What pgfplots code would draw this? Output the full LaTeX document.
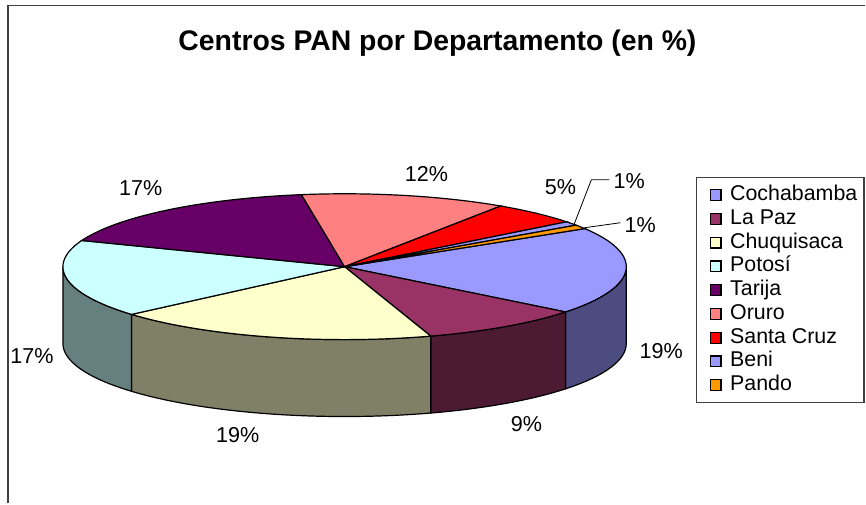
\documentclass[border=0pt]{standalone}
\usepackage{pgfplots}
\pgfplotsset{compat=1.18}
\usepackage{pgfplotstable}
\usepackage{fontspec}
\setmainfont{Liberation Sans}

\definecolor{top0}{HTML}{9999FF}\definecolor{side0}{HTML}{4C4C80}
\definecolor{top1}{HTML}{993366}\definecolor{side1}{HTML}{4D1A33}
\definecolor{top2}{HTML}{FFFFCC}\definecolor{side2}{HTML}{808066}
\definecolor{top3}{HTML}{CCFFFF}\definecolor{side3}{HTML}{668080}
\definecolor{top4}{HTML}{660066}\definecolor{side4}{HTML}{330033}
\definecolor{top5}{HTML}{FF8080}\definecolor{side5}{HTML}{804040}
\definecolor{top6}{HTML}{FF0000}\definecolor{side6}{HTML}{800000}
\definecolor{top7}{HTML}{9999FF}\definecolor{side7}{HTML}{4C4C80}
\definecolor{top8}{HTML}{FF9900}\definecolor{side8}{HTML}{804C00}
\definecolor{framec}{HTML}{404040}

% share of each department (percent), clockwise from Cochabamba
\pgfplotstableread{
name value
Cochabamba 19.4
LaPaz 9.4
Chuquisaca 18.6
Potosi 17.2
Tarija 16.7
Oruro 11.8
SantaCruz 5.1
Beni 0.9
Pando 0.9
}\pantable

% slice angles from the values (start at 31.5 deg, clockwise)
\xdef\cur{31.5}
\pgfplotsforeachungrouped \i in {0,...,8}{%
  \pgfplotstablegetelem{\i}{value}\of\pantable
  \pgfmathsetmacro\nxt{\cur-3.6*\pgfplotsretval}%
  \expandafter\xdef\csname s\i\endcsname{\cur}%
  \expandafter\xdef\csname e\i\endcsname{\nxt}%
  \pgfmathsetmacro\lo{max(\nxt,-180)}%
  \pgfmathsetmacro\hi{min(\cur,0)}%
  \expandafter\xdef\csname lo\i\endcsname{\lo}%
  \expandafter\xdef\csname hi\i\endcsname{\hi}%
  \xdef\cur{\nxt}%
}

\begin{document}
\begin{tikzpicture}
\begin{axis}[
  x=0.5pt, y=0.5pt, y dir=reverse,
  xmin=0, xmax=866, ymin=0, ymax=504,
  hide axis, scale only axis, clip=false,
  legend entries={Cochabamba, La Paz, Chuquisaca, Potosí, Tarija, Oruro, Santa Cruz, Beni, Pando},
  legend cell align=left,
  legend style={at={(axis cs:710,184)}, anchor=north west, draw=none, fill=none,
    font=\fontsize{10.7}{12}\selectfont, row sep=1.0pt, inner sep=0pt,
    nodes={inner sep=0pt, text height=8.2pt, text depth=2.7pt}},
  legend image code/.code={\draw[#1, draw=black, line width=0.6pt] (0pt,-2.7pt) rectangle (5.4pt,2.7pt);
    \path[draw=none, fill=none] (0pt,0pt) -- (10pt,0pt);},
]
\path (rel axis cs:0,0) rectangle (rel axis cs:1,1);
% outer frame and legend box
\draw[framec, line width=1pt] (8,504) -- (8,5.5) -- (866,5.5);
\draw[framec, line width=0.6pt] (697,178) -- (865,178) -- (865,403) -- (697,403) -- cycle;

% side walls (front half only)
\pgfplotsinvokeforeach{0,...,8}{%
  \ifdim\csname hi#1\endcsname pt>\csname lo#1\endcsname pt
    \edef\temp{\noexpand\addplot[fill=side#1, draw=black, line width=0.6pt, forget plot,
      domain=\csname lo#1\endcsname:\csname hi#1\endcsname, samples=50]
      ({345+282*cos(x)},{267-73*sin(x)}) -- ++(0pt,-38.5pt)
      arc[start angle=\csname hi#1\endcsname, end angle=\csname lo#1\endcsname, x radius=141pt, y radius=36.5pt] -- cycle;}%
    \temp
  \fi
}
% top faces
\pgfplotsinvokeforeach{0,...,8}{%
  \edef\temp{\noexpand\addplot[fill=top#1, draw=black, line width=0.6pt,
    domain=\csname e#1\endcsname:\csname s#1\endcsname, samples=50]
    ({345+282*cos(x)},{267-73*sin(x)}) -- (345,267) -- cycle;}%
  \temp
}

% title
\node[font=\fontsize{14.2}{16}\selectfont\bfseries] at (438,43) {Centros PAN por Departamento (en \%)};

% data labels
\begin{scope}[every node/.style={font=\fontsize{10.8}{12}\selectfont}]
\node at (662,351) {19\%};
\node at (527,425) {9\%};
\node at (238,436) {19\%};
\node at (32,356) {17\%};
\node at (141,188) {17\%};
\node at (427,174) {12\%};
\node at (561,187) {5\%};
\node at (630,181) {1\%};
\node at (641,225) {1\%};
\end{scope}
\draw[black, line width=0.4pt] (575,224) -- (592,180) -- (610,180);
\draw[black, line width=0.4pt] (585,228) -- (621,223);
\end{axis}
\end{tikzpicture}
\end{document}
